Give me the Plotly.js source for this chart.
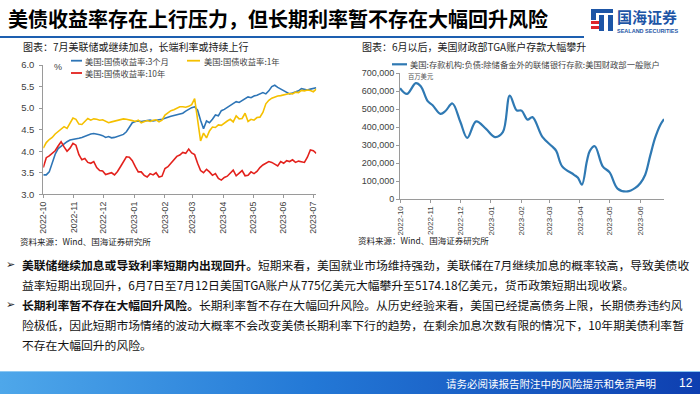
<!DOCTYPE html>
<html><head><meta charset="utf-8">
<script src="https://cdn.plot.ly/plotly-3.0.1.min.js"></script>
<style>html,body{margin:0;padding:0;background:#fff;}#chart{width:700px;height:394px;}</style>
</head><body><div id="chart"></div>
<script>
// ---------- Left chart data: US Treasury yields (%) ----------
const dates = [
"2022-10-01","2022-10-04","2022-10-07","2022-10-10","2022-10-13","2022-10-16","2022-10-19","2022-10-22","2022-10-25","2022-10-28","2022-10-31",
"2022-11-03","2022-11-06","2022-11-09","2022-11-12","2022-11-15","2022-11-18","2022-11-21","2022-11-24","2022-11-27","2022-11-30",
"2022-12-03","2022-12-06","2022-12-09","2022-12-12","2022-12-15","2022-12-18","2022-12-21","2022-12-24","2022-12-27","2022-12-30",
"2023-01-02","2023-01-05","2023-01-08","2023-01-11","2023-01-14","2023-01-17","2023-01-20","2023-01-23","2023-01-26","2023-01-29",
"2023-02-01","2023-02-04","2023-02-07","2023-02-10","2023-02-13","2023-02-16","2023-02-19","2023-02-22","2023-02-25","2023-02-28",
"2023-03-03","2023-03-06","2023-03-09","2023-03-12","2023-03-15","2023-03-18","2023-03-21","2023-03-24","2023-03-27","2023-03-30",
"2023-04-02","2023-04-05","2023-04-08","2023-04-11","2023-04-14","2023-04-17","2023-04-20","2023-04-23","2023-04-26","2023-04-29",
"2023-05-02","2023-05-05","2023-05-08","2023-05-11","2023-05-14","2023-05-17","2023-05-20","2023-05-23","2023-05-26","2023-05-29",
"2023-06-01","2023-06-04","2023-06-07","2023-06-10","2023-06-13","2023-06-16","2023-06-19","2023-06-22","2023-06-25","2023-06-28",
"2023-07-01","2023-07-04"];
const bill3m = [
3.45,3.45,3.52,3.72,3.93,4.06,4.12,4.18,4.22,4.26,4.27,
4.29,4.30,4.32,4.35,4.38,4.40,4.41,4.40,4.38,4.36,
4.32,4.34,4.31,4.32,4.34,4.36,4.39,4.45,4.56,4.66,
4.69,4.70,4.69,4.70,4.71,4.72,4.70,4.72,4.73,4.74,
4.77,4.79,4.81,4.83,4.85,4.86,4.88,4.93,4.97,5.01,
5.03,4.95,4.72,4.52,4.70,4.66,4.74,4.84,4.82,4.94,
4.97,5.02,5.06,5.12,5.15,5.13,5.18,5.22,5.26,5.24,
5.28,5.30,5.33,5.36,5.33,5.40,5.50,5.53,5.48,5.44,
5.40,5.36,5.33,5.35,5.38,5.40,5.45,5.43,5.42,5.44,
5.45,5.47];
const note1y = [
4.07,4.20,4.27,4.32,4.40,4.46,4.50,4.57,4.53,4.66,4.77,
4.74,4.63,4.62,4.70,4.76,4.72,4.75,4.74,4.72,4.73,
4.69,4.66,4.68,4.70,4.72,4.74,4.75,4.74,4.73,4.71,
4.69,4.72,4.66,4.69,4.71,4.69,4.72,4.73,4.68,4.72,
4.84,4.89,4.94,4.96,4.99,5.03,5.03,5.02,5.04,5.08,
5.22,4.72,4.24,4.42,4.31,4.47,4.56,4.55,4.61,4.60,
4.66,4.70,4.74,4.68,4.82,4.75,4.76,4.88,4.69,4.74,
4.72,4.78,4.79,4.90,5.10,5.18,5.23,5.26,5.28,5.29,
5.31,5.33,5.34,5.33,5.37,5.36,5.41,5.40,5.42,5.41,
5.38,5.44];
const bond10y = [
3.62,3.85,3.89,3.95,4.01,4.12,4.22,4.10,4.00,4.07,4.18,
4.14,3.92,3.80,3.83,3.74,3.72,3.76,3.62,3.55,3.54,
3.46,3.48,3.50,3.45,3.53,3.64,3.77,3.87,3.86,3.78,
3.64,3.52,3.52,3.44,3.40,3.48,3.45,3.50,3.40,3.42,
3.60,3.64,3.72,3.81,3.88,3.91,3.97,3.95,4.05,3.96,
3.92,3.72,3.55,3.50,3.58,3.52,3.44,3.48,3.37,3.33,
3.39,3.42,3.48,3.56,3.43,3.50,3.55,3.43,3.44,3.52,
3.48,3.53,3.62,3.68,3.72,3.76,3.74,3.70,3.66,3.76,
3.72,3.78,3.76,3.80,3.74,3.77,3.75,3.74,3.86,4.03,
4.01,3.95];
const yieldNames = ["美国:国债收益率:3个月","美国:国债收益率:1年","美国:国债收益率:10年"];
const yieldColors = ["#2e75b6","#f5c000","#e3211c"];

// ---------- Right chart data: TGA balance (USD mn) ----------
const tgaDates = ["2022-10-01","2022-10-08","2022-10-17","2022-10-22","2022-10-29","2022-11-03","2022-11-11","2022-11-16","2022-11-23","2022-12-01",
"2022-12-08","2022-12-17","2022-12-27","2023-01-05","2023-01-13","2023-01-20","2023-01-27","2023-02-01","2023-02-07","2023-02-12",
"2023-02-22","2023-03-04","2023-03-08","2023-03-14","2023-03-26","2023-03-30","2023-04-03","2023-04-08","2023-04-11","2023-04-16",
"2023-04-24","2023-05-01","2023-05-09","2023-05-19","2023-05-27","2023-06-01","2023-06-06","2023-06-11","2023-06-16","2023-06-21","2023-06-25"];
const tgaValues = [617000,585000,645000,628000,545000,522000,474000,490000,532000,430000,
340000,432000,390000,345000,372000,576000,494000,492000,442000,456000,
346000,292000,268000,182000,135000,118000,80000,210000,268000,294000,
182000,148000,58000,42000,62000,88000,135000,240000,340000,410000,445000];
const tgaName = "美国:存款机构:负债:除储备金外的联储银行存款:美国财政部一般账户";
const tgaColor = "#2f79b3";

// ---------- Texts ----------
const titleText = "美债收益率存在上行压力，但长期利率暂不存在大幅回升风险";
const leftCaption = "图表：7月美联储或继续加息，长端利率或持续上行";
const rightCaption = "图表：6月以后，美国财政部TGA账户存款大幅攀升";
const sourceText = "资料来源：Wind、国海证券研究所";
const bodyLines = [
 "<b>美联储继续加息或导致利率短期内出现回升。</b>短期来看，美国就业市场维持强劲，美联储在7月继续加息的概率较高，导致美债收",
 "益率短期出现回升，6月7日至7月12日美国TGA账户从775亿美元大幅攀升至5174.18亿美元，货币政策短期出现收紧。",
 "<b>长期利率暂不存在大幅回升风险。</b>长期利率暂不存在大幅回升风险。从历史经验来看，美国已经提高债务上限，长期债券违约风",
 "险极低，因此短期市场情绪的波动大概率不会改变美债长期利率下行的趋势，在剩余加息次数有限的情况下，10年期美债利率暂",
 "不存在大幅回升的风险。"];
const footerText = "请务必阅读报告附注中的风险提示和免责声明";
const pageNo = "12";

// ---------- helpers (layout positioning in page pixels) ----------
const W = 700, H = 394;
const fx = x => x / W, fy = y => 1 - y / H;
const CJK = "Noto Sans CJK SC, Noto Sans, sans-serif";
const ARIAL = "Liberation Sans, Arial, sans-serif";
function ann(text, x, y, o) {
  return Object.assign({text, x: fx(x), y: fy(y), xref: "paper", yref: "paper", showarrow: false,
    xanchor: "left", yanchor: "middle", borderpad: 0, font: {family: CJK, size: 10, color: "#222"}}, o || {});
}
function hline(x0, x1, y, color, width) {
  return {type: "line", xref: "paper", yref: "paper", x0: fx(x0), x1: fx(x1), y0: fy(y), y1: fy(y), line: {color, width}};
}

const traces = [
  {x: dates, y: bill3m, name: yieldNames[0], type: "scatter", mode: "lines", line: {color: yieldColors[0], width: 1.6}, xaxis: "x", yaxis: "y"},
  {x: dates, y: note1y, name: yieldNames[1], type: "scatter", mode: "lines", line: {color: yieldColors[1], width: 1.6}, xaxis: "x", yaxis: "y"},
  {x: dates, y: bond10y, name: yieldNames[2], type: "scatter", mode: "lines", line: {color: yieldColors[2], width: 1.6}, xaxis: "x", yaxis: "y"},
  {x: tgaDates, y: tgaValues, name: tgaName, type: "scatter", mode: "lines", line: {color: tgaColor, width: 2.2, shape: "spline", smoothing: 1}, xaxis: "x2", yaxis: "y2"}
];

const axisCommon = {showgrid: false, zeroline: false, showline: true, linecolor: "#9a9a9a", linewidth: 1,
  ticks: "outside", ticklen: 3, tickcolor: "#9a9a9a", fixedrange: true};

const footerSvg = "<svg xmlns='http://www.w3.org/2000/svg' width='700' height='23' preserveAspectRatio='none'><defs><linearGradient id='g' x1='0' x2='1' y1='0' y2='0'><stop offset='0' stop-color='#4ea7ea'/><stop offset='0.45' stop-color='#2378d6'/><stop offset='1' stop-color='#0e3fb0'/></linearGradient></defs><rect width='700' height='23' fill='url(#g)'/><rect width='700' height='1' fill='#8cc8f2'/></svg>";
const logoSvg = "<svg xmlns='http://www.w3.org/2000/svg' width='24' height='24'><rect x='1' y='1' width='22' height='4' fill='#1d55a6'/><rect x='1' y='1' width='5' height='11' fill='#1d55a6'/><rect x='9' y='7' width='5' height='16' fill='#1d55a6'/><rect x='18' y='7' width='5' height='16' fill='#1d55a6'/><rect x='1' y='13' width='8' height='3' fill='#e0262b'/><rect x='1' y='18' width='8' height='3' fill='#e0262b'/></svg>";
const uri = s => "data:image/svg+xml;charset=utf-8," + encodeURIComponent(s);

const layout = {
  width: W, height: H, margin: {l: 0, r: 0, t: 0, b: 0},
  paper_bgcolor: "#ffffff", plot_bgcolor: "rgba(0,0,0,0)", showlegend: false,
  font: {family: CJK, color: "#333"},
  xaxis: Object.assign({}, axisCommon, {type: "date", domain: [fx(43.3), fx(316.3)], anchor: "y",
    range: ["2022-10-01", "2023-07-04"], tick0: "2022-10-01", dtick: "M1", tickformat: "%Y-%m", tickangle: -90,
    tickfont: {family: ARIAL, size: 8.7, color: "#404040"}}),
  yaxis: Object.assign({}, axisCommon, {domain: [fy(194.3), fy(65)], anchor: "x", range: [3, 6], dtick: 0.5,
    tickformat: ".1f", ticklabelstandoff: 3, tickfont: {family: ARIAL, size: 9.5, color: "#404040"}}),
  xaxis2: Object.assign({}, axisCommon, {type: "date", domain: [fx(400), fx(664)], anchor: "y2",
    range: ["2022-10-01", "2023-06-25"], tick0: "2022-10-01", dtick: "M1", tickformat: "%Y-%m", tickangle: -90,
    tickfont: {family: ARIAL, size: 8, color: "#404040"}}),
  yaxis2: Object.assign({}, axisCommon, {domain: [fy(199), fy(73.3)], anchor: "x2", range: [0, 700000], dtick: 100000,
    tickformat: ",.0f", ticklabelstandoff: 0, tickfont: {family: ARIAL, size: 9, color: "#404040"}}),
  images: [
    {source: uri(footerSvg), xref: "paper", yref: "paper", x: 0, y: fy(371), sizex: 1, sizey: 23 / H,
     xanchor: "left", yanchor: "top", sizing: "stretch", layer: "below"},
    {source: uri(logoSvg), xref: "paper", yref: "paper", x: fx(590), y: fy(8), sizex: 24 / W, sizey: 24 / H,
     xanchor: "left", yanchor: "top", sizing: "stretch", layer: "above"}
  ],
  shapes: [
    hline(0, 584, 37, "#1d5fb0", 2),
    // manual legend swatches
    hline(71, 82, 60.7, yieldColors[0], 1.8),
    hline(187, 200, 60.7, yieldColors[1], 1.8),
    hline(71, 82, 73, yieldColors[2], 1.8),
    hline(392, 407, 64.3, tgaColor, 2.2)
  ],
  annotations: [
    ann("<b>" + titleText + "</b>", 7, 19, {font: {family: CJK, size: 20, color: "#000"}}),
    ann("<b>国海证券</b>", 616, 16.5, {font: {family: CJK, size: 15, color: "#1d55a6"}}),
    ann("<b>SEALAND SECURITIES</b>", 616, 31, {font: {family: ARIAL, size: 5.5, color: "#1d55a6"}}),
    ann(leftCaption, 22, 47, {font: {family: CJK, size: 10, color: "#1a1a1a"}}),
    ann(rightCaption, 361, 47, {font: {family: CJK, size: 10, color: "#1a1a1a"}}),
    ann(yieldNames[0], 84, 60.7, {font: {family: CJK, size: 8.3, color: "#444"}}),
    ann(yieldNames[1], 203, 60.7, {font: {family: CJK, size: 8.3, color: "#444"}}),
    ann(yieldNames[2], 84, 73, {font: {family: CJK, size: 8.3, color: "#444"}}),
    ann("%", 53, 67, {font: {family: ARIAL, size: 9, color: "#404040"}}),
    ann(tgaName, 409, 64.3, {font: {family: CJK, size: 8.3, color: "#444"}}),
    ann("百万美元", 407, 77, {font: {family: CJK, size: 6.3, color: "#555"}}),
    ann(sourceText, 19, 241, {font: {family: CJK, size: 8.5, color: "#222"}}),
    ann(sourceText, 357, 240, {font: {family: CJK, size: 8.5, color: "#222"}}),
    ann("➢", 5, 264, {font: {family: "DejaVu Sans", size: 11, color: "#222"}}),
    ann("➢", 5, 304, {font: {family: "DejaVu Sans", size: 11, color: "#222"}}),
    ann(bodyLines[0], 21, 264, {font: {family: CJK, size: 11.8, color: "#111"}}),
    ann(bodyLines[1], 21, 284, {font: {family: CJK, size: 11.8, color: "#111"}}),
    ann(bodyLines[2], 21, 304, {font: {family: CJK, size: 11.8, color: "#111"}}),
    ann(bodyLines[3], 21, 324, {font: {family: CJK, size: 11.8, color: "#111"}}),
    ann(bodyLines[4], 21, 344, {font: {family: CJK, size: 11.8, color: "#111"}}),
    ann(footerText, 657, 383, {xanchor: "right", font: {family: CJK, size: 10.5, color: "#ffffff"}}),
    ann(pageNo, 686, 383, {xanchor: "center", font: {family: ARIAL, size: 12, color: "#ffffff"}})
  ]
};

Plotly.newPlot("chart", traces, layout, {displayModeBar: false, staticPlot: true});
</script>
</body></html>
